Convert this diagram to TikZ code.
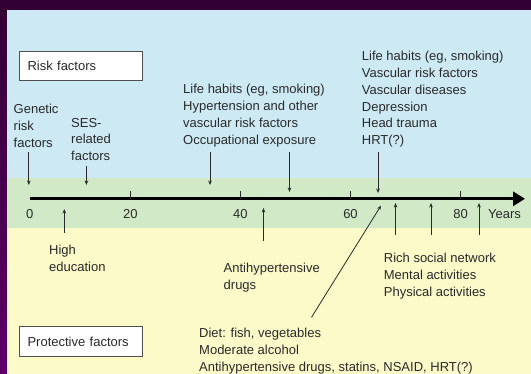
\documentclass[tikz,border=0pt]{standalone}
\usepackage{fontspec}
\setmainfont{Liberation Sans}
\usetikzlibrary{arrows.meta}
\definecolor{purpleTop}{HTML}{330035}
\definecolor{purpleSide}{HTML}{5E0068}
\definecolor{skyband}{HTML}{CDEAF4}
\definecolor{greenband}{HTML}{D2E9C8}
\definecolor{yellowband}{HTML}{FCFAC8}
\definecolor{ink}{HTML}{2A2A2A}
\definecolor{boxline}{HTML}{505050}
\begin{document}
\begin{tikzpicture}[x=1pt,y=-1pt,
  font=\fontsize{13}{16.9}\selectfont,
  txt/.style={inner sep=0pt, anchor=north west, align=left, text=ink},
  lbl/.style={inner sep=0pt, anchor=center, text=ink},
  boxed/.style={draw=boxline, line width=0.9pt, fill=white, anchor=north west,
    minimum width=123pt, minimum height=29.5pt, inner xsep=8.4pt, inner ysep=0pt,
    text width=106pt, align=left, text=ink},
  thinarrow/.style={draw=ink, line width=0.8pt, -{Stealth[length=4.5pt,width=3.6pt]}},
  axisline/.style={draw=black, line width=3.4pt, -{Triangle[length=12pt,width=14pt]}},
  tickmark/.style={draw=ink, line width=1pt}]
\useasboundingbox (0,0) rectangle (531,374);
% background
\fill[purpleTop] (0,0) rectangle (531,374);
\shade[top color=purpleTop, bottom color=purpleSide] (0,10) rectangle (7,374);
\fill[skyband] (7,10) rectangle (531,178);
\fill[greenband] (7,178) rectangle (531,227.6);
\fill[yellowband] (7,227.6) rectangle (531,374);

% boxes
\node[boxed] (risk) at (18.6,50.8) {Risk factors};
\node[boxed] (prot) at (18.6,326.5) {Protective factors};

% axis
\coordinate (ax0) at (29.8,198.8);
\coordinate (axE) at (525,198.8);
\draw[axisline] (ax0) -- (axE);
\foreach \x/\n in {130.4/20,240.4/40,350.5/60,460.5/80}{
  \coordinate (t\n) at (\x,191);
  \coordinate (b\n) at (\x,198.8);
  \draw[tickmark] (t\n) -- (b\n);
  \node[lbl] (l\n) at (\x,214) {\n};
}
\node[lbl] (l0) at (29.8,214) {0};
\node[lbl] (years) at (504.6,214) {Years};

% risk texts
\node[txt] (genetic) at (13.5,104.2) {Genetic\\risk\\factors};
\node[txt] (ses) at (71,117.8) {SES-\\related\\factors};
\node[txt] (grpA) at (183,83.9) {Life habits (eg, smoking)\\Hypertension and other\\vascular risk factors\\Occupational exposure};
\node[txt] (grpB) at (361.7,50.7) {Life habits (eg, smoking)\\Vascular risk factors\\Vascular diseases\\Depression\\Head trauma\\HRT(?)};

% protective texts
\node[txt] (highed) at (49,245.2) {High\\education};
\node[txt] (antihyp) at (223.5,263.2) {Antihypertensive\\drugs};
\node[txt] (rich) at (383.7,253.2) {Rich social network\\Mental activities\\Physical activities};
\node[txt] (diet) at (199,327.7) {Diet: fish, vegetables\\Moderate alcohol\\Antihypertensive drugs, statins, NSAID, HRT(?)};

% risk arrows (down)
\coordinate (gS) at (28.8,152);  \coordinate (gE) at (28.8,185);
\coordinate (sS) at (86.4,166);  \coordinate (sE) at (86.4,185);
\coordinate (aS) at (210,152);   \coordinate (aE) at (210,185);
\coordinate (a2S) at (289.5,152); \coordinate (a2E) at (289.5,192);
\coordinate (bS) at (378,152);   \coordinate (bE) at (378,193);
\draw[thinarrow] (gS) -- (gE);
\draw[thinarrow] (sS) -- (sE);
\draw[thinarrow] (aS) -- (aE);
\draw[thinarrow] (a2S) -- (a2E);
\draw[thinarrow] (bS) -- (bE);

% protective arrows (up)
\coordinate (hS) at (64.3,232.6); \coordinate (hE) at (64.3,209);
\coordinate (pS) at (263.5,241);  \coordinate (pE) at (263.5,208);
\coordinate (dS) at (311.5,317.3); \coordinate (dE) at (381,205.6);
\coordinate (r1S) at (395.5,235); \coordinate (r1E) at (395.5,203);
\coordinate (r2S) at (431,235);   \coordinate (r2E) at (431,203);
\coordinate (r3S) at (479,235);   \coordinate (r3E) at (479,203);
\draw[thinarrow] (hS) -- (hE);
\draw[thinarrow] (pS) -- (pE);
\draw[thinarrow] (dS) -- (dE);
\draw[thinarrow] (r1S) -- (r1E);
\draw[thinarrow] (r2S) -- (r2E);
\draw[thinarrow] (r3S) -- (r3E);
\end{tikzpicture}
\end{document}
